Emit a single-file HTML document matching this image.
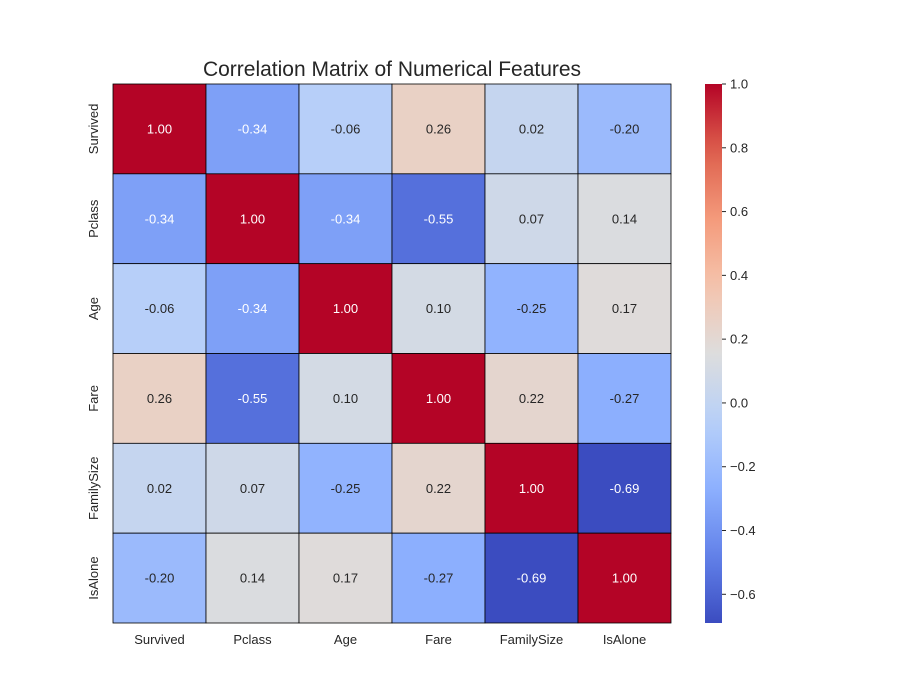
<!DOCTYPE html>
<html><head><meta charset="utf-8"><style>
html,body{margin:0;padding:0;background:#fff;}
svg{display:block;font-family:"Liberation Sans",Arial,sans-serif;}
</style></head><body>
<svg id="chart" width="900" height="700" xmlns="http://www.w3.org/2000/svg"></svg>
<script>
const categories = ["Survived","Pclass","Age","Fare","FamilySize","IsAlone"];
const matrixValues = [
  [1.00,-0.34,-0.06,0.26,0.02,-0.20],
  [-0.34,1.00,-0.34,-0.55,0.07,0.14],
  [-0.06,-0.34,1.00,0.10,-0.25,0.17],
  [0.26,-0.55,0.10,1.00,0.22,-0.27],
  [0.02,0.07,-0.25,0.22,1.00,-0.69],
  [-0.20,0.14,0.17,-0.27,-0.69,1.00]
];
const cbTicks = [1.0,0.8,0.6,0.4,0.2,0.0,-0.2,-0.4,-0.6];
const cbTickLabels = ["1.0","0.8","0.6","0.4","0.2","0.0","\u22120.2","\u22120.4","\u22120.6"];
const vmin = -0.69, vmax = 1.0;

const NS="http://www.w3.org/2000/svg";
const svg=document.getElementById('chart');
const gx0=113, gx1=671, gy0=84, gy1=623;
const cw=(gx1-gx0)/categories.length, ch=(gy1-gy0)/categories.length;
const stops=[[59,76,192],[98,130,234],[141,176,254],[184,208,249],[221,221,221],[245,196,173],[244,154,123],[222,96,77],[180,4,38]];
function cmap(v){
  let t=(v-vmin)/(vmax-vmin); t=Math.max(0,Math.min(1,t));
  const p=t*(stops.length-1), i=Math.min(Math.floor(p),stops.length-2), f=p-i;
  const c=stops[i].map((a,k)=>Math.round(a+(stops[i+1][k]-a)*f));
  return `rgb(${c[0]},${c[1]},${c[2]})`;
}
function el(tag,attrs,text){const e=document.createElementNS(NS,tag);for(const k in attrs)e.setAttribute(k,attrs[k]);if(text!==undefined)e.textContent=text;svg.appendChild(e);return e;}

const title=el('text',{x:392,y:76,'text-anchor':'middle','font-size':21,fill:'#262626'},'Correlation Matrix of Numerical Features');



matrixValues.forEach((row,r)=>{
  row.forEach((v,c)=>{
    const rect=el('rect',{x:gx0+c*cw,y:gy0+r*ch,width:cw,height:ch,fill:cmap(v),stroke:'#000','stroke-width':0.8});
    
    
    const white = v>=0.9 || v<=-0.3;
    const t=el('text',{x:gx0+(c+0.5)*cw,y:gy0+(r+0.5)*ch+4.5,'text-anchor':'middle','font-size':13,fill:white?'#fff':'#262626'},v.toFixed(2));
    
    
  });
});

categories.forEach((name,i)=>{
  const xt=el('text',{x:gx0+(i+0.5)*cw,y:644,'text-anchor':'middle','font-size':13,fill:'#262626'},name);
  
  
  const yc=gy0+(i+0.5)*ch, xx=98;
  const yt=el('text',{x:xx,y:yc,'text-anchor':'middle','font-size':13,fill:'#262626',transform:`rotate(-90 ${xx} ${yc})`},name);
  
  
});

// colorbar
const cbx=705, cbw=17;
const defs=document.createElementNS(NS,'defs');svg.appendChild(defs);
const lg=document.createElementNS(NS,'linearGradient');
lg.setAttribute('id','cbgrad');lg.setAttribute('x1','0');lg.setAttribute('y1','1');lg.setAttribute('x2','0');lg.setAttribute('y2','0');
defs.appendChild(lg);
for(let i=0;i<=20;i++){const s=document.createElementNS(NS,'stop');const v=vmin+(vmax-vmin)*i/20;s.setAttribute('offset',(i/20));s.setAttribute('stop-color',cmap(v));lg.appendChild(s);}
const cb=el('rect',{x:cbx,y:gy0,width:cbw,height:gy1-gy0,fill:'url(#cbgrad)'});


function cy(v){return gy0+(vmax-v)/(vmax-vmin)*(gy1-gy0);}
cbTicks.forEach((v,i)=>{
  const y=cy(v);
  const tk=el('line',{x1:cbx+cbw,x2:cbx+cbw+4,y1:y,y2:y,stroke:'#262626','stroke-width':1});
  
  
  const lb=el('text',{x:cbx+cbw+8,y:y+4.5,'font-size':13,fill:'#262626'},cbTickLabels[i]);
  
  
});
</script>
</body></html>
